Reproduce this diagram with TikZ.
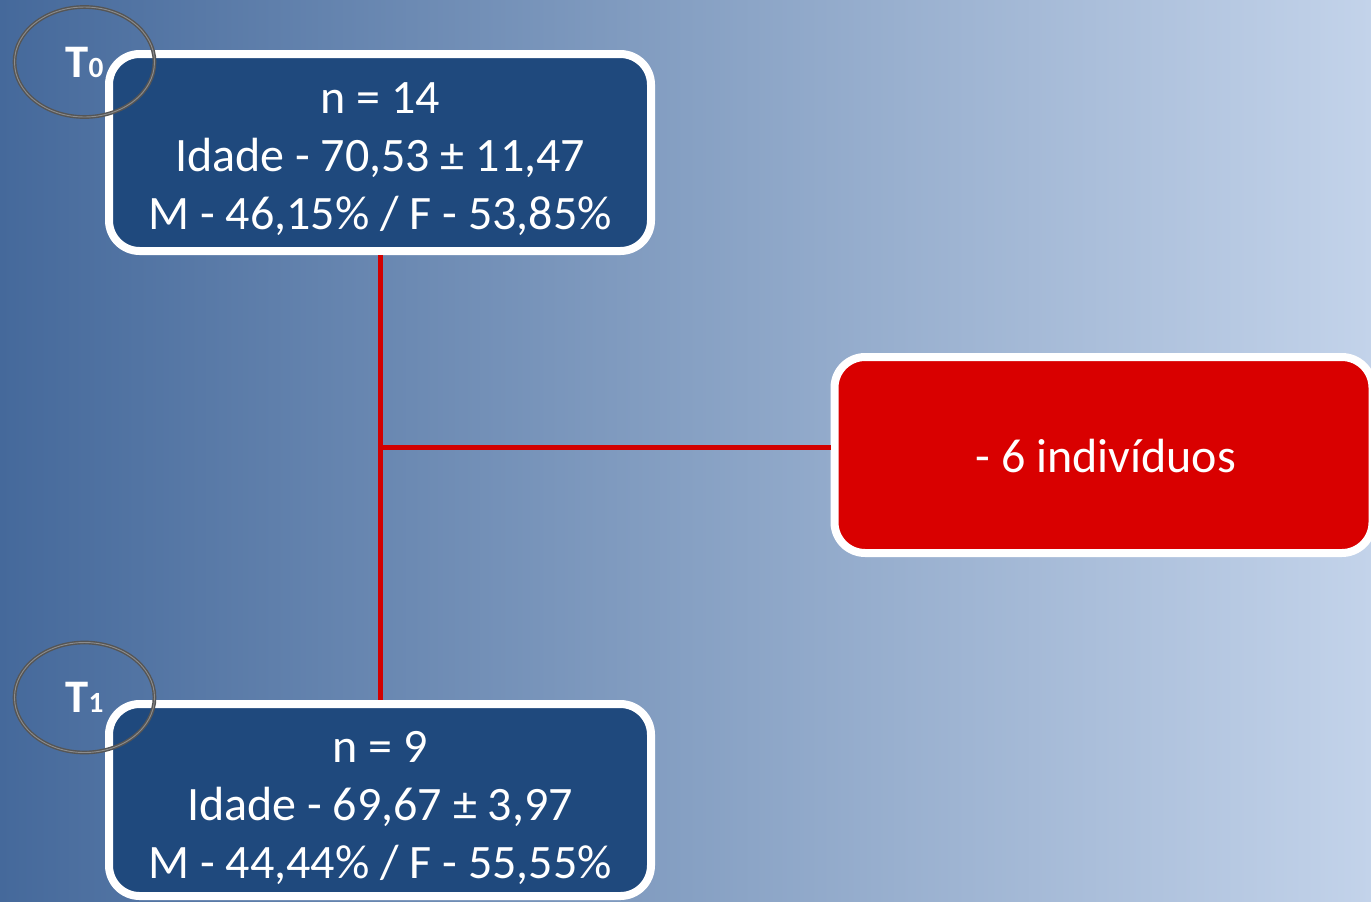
\documentclass[tikz,border=0pt]{standalone}
\usepackage{fontspec}
\setmainfont{Carlito}
\usetikzlibrary{shapes.geometric,calc}
\definecolor{bgL}{HTML}{45699B}
\definecolor{bgM}{HTML}{86A0C3}
\definecolor{bgR}{HTML}{C3D3EA}
\definecolor{boxblue}{HTML}{1F497D}
\definecolor{boxred}{HTML}{D90000}
\definecolor{linkred}{HTML}{D20000}
\definecolor{ringgray}{HTML}{555555}
\definecolor{ringlight}{HTML}{8C8C8C}
\tikzset{
  infobox/.style={draw=white, line width=6pt, rounded corners=23pt, fill=boxblue,
    inner sep=0pt},
  alertbox/.style={infobox, fill=boxred},
  boxtext/.style={text=white, align=center, inner sep=0pt,
    font=\fontsize{36}{43.5}\selectfont},
  timering/.style={ellipse, draw=ringgray, line width=2.8pt, inner sep=0pt,
    minimum width=105pt, minimum height=82.5pt, text=white,
    font=\fontsize{35}{40}\selectfont\bfseries},
  ringshine/.style={ellipse, draw=ringlight, line width=0.7pt, inner sep=0pt,
    minimum width=105pt, minimum height=82.5pt},
  link/.style={draw=linkred, line width=3.75pt}
}
\newcommand{\subdig}[1]{{\fontsize{22}{24}\selectfont #1}}
\begin{document}
\begin{tikzpicture}[x=0.75pt,y=-0.75pt]
  \clip (0,0) rectangle (1371,901);
  \shade[left color=bgL, right color=bgR, middle color=bgM] (0,0) rectangle (1371,901);
  % boxes
  \node[infobox, minimum width=406.5pt, minimum height=147.75pt] (top) at (380,152.5) {};
  \node[boxtext] (toptext) at (380,159)
    {n = 14\\Idade - 70,53 ± 11,47\\M - 46,15\% / F - 53,85\%};
  \node[infobox, minimum width=406.5pt, minimum height=144pt] (bot) at (380,800) {};
  \node[boxtext] (bottext) at (380,808)
    {n = 9\\Idade - 69,67 ± 3,97\\M - 44,44\% / F - 55,55\%};
  \node[alertbox, minimum width=403.5pt, minimum height=147pt] (red) at (1103.5,455) {};
  \node[boxtext] (redtext) at (1106,456) {- 6 indivíduos};
  % connectors
  \coordinate (j) at (380,447);
  \draw[link] (top.south) -- (bot.north);
  \draw[link] (j) -- (j -| red.west);
  % time rings
  \node[timering] (t0) at (84.5,62) {T\subdig{0}};
  \node[ringshine] (t0s) at (84.5,62) {};
  \node[timering] (t1) at (84.5,697.5) {T\subdig{1}};
  \node[ringshine] (t1s) at (84.5,697.5) {};
\end{tikzpicture}
\end{document}
